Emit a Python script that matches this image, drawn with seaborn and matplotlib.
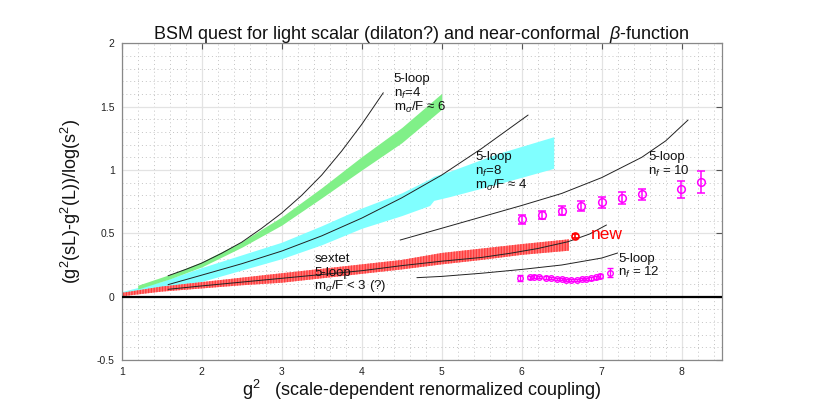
import numpy as np
import pandas as pd
import matplotlib
matplotlib.use("Agg")
import matplotlib.pyplot as plt
import seaborn as sns
from matplotlib.ticker import MultipleLocator, FuncFormatter

# ---------------- data ----------------
# 5-loop perturbative curves
nf4_g2 = [1.58, 1.8, 2.0, 2.25, 2.5, 2.75, 3.0, 3.25, 3.5, 3.75, 4.0, 4.27]
nf4_y = [0.165, 0.215, 0.265, 0.343, 0.43, 0.54, 0.66, 0.80, 0.96, 1.15, 1.36, 1.61]

nf8_g2 = [1.58, 2.0, 2.5, 3.0, 3.5, 4.0, 4.5, 5.0, 5.5, 6.08]
nf8_y = [0.095, 0.17, 0.26, 0.36, 0.48, 0.62, 0.78, 0.96, 1.17, 1.434]

nf10_g2 = [4.48, 5.0, 5.5, 6.0, 6.5, 7.0, 7.5, 7.8, 8.08]
nf10_y = [0.447, 0.54, 0.63, 0.72, 0.815, 0.94, 1.10, 1.23, 1.395]

nf12_g2 = [4.69, 5.0, 5.5, 6.0, 6.5, 7.0, 7.2]
nf12_y = [0.15, 0.16, 0.185, 0.215, 0.25, 0.305, 0.345]

sextet_g2 = [1.58, 2.0, 2.5, 3.0, 3.5, 4.0, 4.5, 5.0, 5.5, 5.85, 6.2, 6.58, 6.85, 7.06]
sextet_y = [0.058, 0.085, 0.115, 0.145, 0.175, 0.205, 0.245, 0.28, 0.31, 0.342, 0.38, 0.434, 0.495, 0.566]

# bands (lattice results)
green_g2 = [1.2, 1.6, 2.0, 2.5, 3.0, 3.5, 4.0, 4.5, 5.0]
green_lo = [0.06, 0.14, 0.235, 0.39, 0.565, 0.78, 1.0, 1.215, 1.48]
green_hi = [0.09, 0.175, 0.275, 0.435, 0.63, 0.86, 1.105, 1.335, 1.605]

cyan_g2 = [1.0, 1.5, 2.0, 2.5, 3.0, 3.5, 4.0, 4.5, 4.85, 4.9, 5.1, 5.7, 6.4]
cyan_lo = [0.012, 0.07, 0.12, 0.21, 0.30, 0.41, 0.54, 0.64, 0.72, 0.76, 0.79, 0.89, 1.013]
cyan_hi = [0.04, 0.12, 0.23, 0.33, 0.43, 0.56, 0.70, 0.82, 0.93, 0.95, 0.99, 1.13, 1.263]

red_g2 = [1.0, 1.5, 2.0, 2.5, 3.0, 3.5, 4.0, 4.5, 5.0, 5.5, 6.0, 6.59]
red_lo = [0.003, 0.04, 0.065, 0.09, 0.11, 0.145, 0.18, 0.215, 0.255, 0.29, 0.33, 0.363]
red_hi = [0.03, 0.08, 0.115, 0.15, 0.185, 0.22, 0.255, 0.29, 0.345, 0.38, 0.415, 0.453]

# magenta data points (nf = 10)
p10_g2 = [6.0, 6.25, 6.5, 6.74, 7.0, 7.25, 7.5, 7.99, 8.24]
p10_y = [0.611, 0.645, 0.679, 0.716, 0.745, 0.776, 0.808, 0.847, 0.903]
p10_err = [0.035, 0.035, 0.038, 0.043, 0.045, 0.047, 0.046, 0.066, 0.088]

# magenta data points (nf = 12)
p12_g2 = [5.98, 6.1, 6.15, 6.22, 6.3, 6.37, 6.44, 6.5, 6.56, 6.62, 6.69, 6.75, 6.81, 6.87, 6.93, 6.98, 7.1]
p12_y = [0.148, 0.155, 0.158, 0.155, 0.15, 0.145, 0.14, 0.138, 0.135, 0.135, 0.135, 0.137, 0.14, 0.145, 0.155, 0.165, 0.19]
p12_err = [0.025, 0.012, 0.012, 0.01, 0.01, 0.008, 0.008, 0.008, 0.008, 0.008, 0.008, 0.008, 0.008, 0.01, 0.012, 0.015, 0.035]

# new sextet point
new_g2 = [6.67]
new_y = [0.479]
new_err = [0.018]

title = "BSM quest for light scalar (dilaton?) and near-conformal  $\\beta$-function"
xlabel = "g$^2$   (scale-dependent renormalized coupling)"
ylabel = "(g$^2$(sL)-g$^2$(L))/log(s$^2$)"

label_nf4 = ["5-loop", "n$_f$=4", "m$_\\sigma$/F \u2248 6"]
label_nf8 = ["5-loop", "n$_f$=8", "m$_\\sigma$/F \u2248 4"]
label_nf10 = ["5-loop", "n$_f$ = 10"]
label_sextet = ["sextet", "5-loop", "m$_\\sigma$/F < 3 (?)"]
label_nf12 = ["5-loop", "n$_f$ = 12"]

# ---------------- plotting ----------------
sns.set_style("white")
plt.rcParams['font.family'] = ['Liberation Sans', 'DejaVu Sans']
plt.rcParams['mathtext.fontset'] = 'custom'
plt.rcParams['mathtext.rm'] = 'Liberation Sans'
plt.rcParams['mathtext.it'] = 'Liberation Sans:italic'

fig = plt.figure(figsize=(8.14, 4.09), dpi=100)
ax = fig.add_axes([0.1495, 0.1198, 0.7371, 0.7742])

ax.set_xlim(1, 8.5)
ax.set_ylim(-0.5, 2)
ax.xaxis.set_major_locator(MultipleLocator(1))
ax.xaxis.set_minor_locator(MultipleLocator(0.2))
ax.yaxis.set_major_locator(MultipleLocator(0.5))
ax.yaxis.set_minor_locator(MultipleLocator(0.1))
ax.grid(which='major', color='#e3e3e3', linewidth=0.9, linestyle='-')
ax.grid(which='minor', color='#c4c4c4', linewidth=0.7, linestyle=(0, (1, 3)))
ax.set_axisbelow(True)
ax.tick_params(which='major', direction='in', length=4, width=0.8, color='#555555',
               top=True, right=True, labelsize=7.5, labelcolor='#222222', pad=5)
ax.tick_params(which='minor', length=0)
ax.yaxis.set_major_formatter(FuncFormatter(lambda v, p: f"{v:g}"))
for s in ax.spines.values():
    s.set_color('#888888')
    s.set_linewidth(0.9)

# bands
ax.fill_between(cyan_g2, cyan_lo, cyan_hi, color='#80ffff', linewidth=0, zorder=2)
ax.fill_between(green_g2, green_lo, green_hi, color='#80f088', linewidth=0, zorder=2)
ax.fill_between(red_g2, red_lo, red_hi, facecolor='#ff7b7b', edgecolor='#ff3c3c',
                hatch='||||||', linewidth=0, zorder=2)

# zero line
ax.axhline(0, color='black', linewidth=1.6, zorder=3)

# 5-loop curves
curves = pd.concat([
    pd.DataFrame({'g2': nf4_g2, 'y': nf4_y, 'c': 'nf4'}),
    pd.DataFrame({'g2': nf8_g2, 'y': nf8_y, 'c': 'nf8'}),
    pd.DataFrame({'g2': nf10_g2, 'y': nf10_y, 'c': 'nf10'}),
    pd.DataFrame({'g2': nf12_g2, 'y': nf12_y, 'c': 'nf12'}),
    pd.DataFrame({'g2': sextet_g2, 'y': sextet_y, 'c': 'sextet'}),
])
sns.lineplot(data=curves, x='g2', y='y', units='c', estimator=None, sort=False,
             color='#222222', linewidth=0.7, ax=ax, zorder=4, legend=False)

# data points
ax.errorbar(p10_g2, p10_y, yerr=p10_err, fmt='o', mfc='none', mec='#ff00ff',
            ecolor='#ff00ff', ms=5.5, mew=1.1, elinewidth=1.1, capsize=3, capthick=1.1, zorder=5)
ax.errorbar(p12_g2, p12_y, yerr=p12_err, fmt='o', mfc='none', mec='#ff00ff',
            ecolor='#ff00ff', ms=4, mew=1.0, elinewidth=1.0, capsize=2.5, capthick=1.0, zorder=5)
ax.errorbar(new_g2, new_y, yerr=new_err, fmt='o', mfc='none', mec='#ff0000',
            ecolor='#ff0000', ms=5, mew=1.2, elinewidth=1.2, capsize=2.5, capthick=1.2, zorder=5)


def stacked(x, y, lines, step=10.0, size=9.5):
    for i, t in enumerate(lines):
        ax.annotate(t, xy=(x, y), xytext=(0, -i * step), textcoords='offset points',
                    fontsize=size, color='#111111', va='center', ha='left', zorder=6)


stacked(4.40, 1.715, label_nf4)
stacked(5.42, 1.10, label_nf8)
stacked(7.58, 1.10, label_nf10)
stacked(3.41, 0.30, label_sextet)
stacked(7.21, 0.30, label_nf12)
ax.text(6.86, 0.487, "new", fontsize=12.5, color='#ff0000', va='center', ha='left', zorder=6)

ax.set_title(title, fontsize=13, color='#111111', pad=3)
ax.set_xlabel(xlabel, fontsize=13, color='#111111', labelpad=1)
ax.set_ylabel(ylabel, fontsize=13, color='#111111', labelpad=10)

fig.savefig("out.png", dpi=100)
